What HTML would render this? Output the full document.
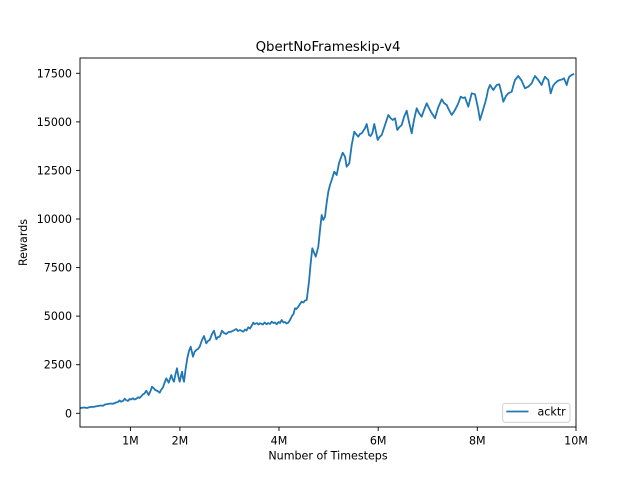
<!DOCTYPE html>
<html><head><meta charset="utf-8"><style>
html,body{margin:0;padding:0;background:#fff;}
svg{display:block;}
text{font-family:"DejaVu Sans","Liberation Sans",sans-serif;fill:#000;}
</style></head><body>
<svg width="640" height="480" viewBox="0 0 640 480" xmlns="http://www.w3.org/2000/svg">
<rect x="0" y="0" width="640" height="480" fill="#fff"/>
<defs><clipPath id="c"><rect x="80" y="58" width="496" height="369"/></clipPath></defs>
<polyline clip-path="url(#c)" fill="none" stroke="#1f77b4" stroke-width="1.8" stroke-linejoin="round" stroke-linecap="square" points="
80.5,408 84,407.5 87,408 90,407 94,406.8 98,406 101,405.5 103,405.8 105,404.5 108,404 111,403.5 113,403.8 116,402.5 118,402 119.5,400.5 121,401.7 123,401 124.7,398.7 126,400 128,401 129.5,399 131,399.5 133,398.3 134.5,399.5 136,399 138,397.3 139.5,398 141,396.5 143,394.3 144.5,393.5 146.3,390.7 148.7,395 150.5,391 152,386.7 153.5,388 155.3,390 157.5,391 159.7,392.7 161,390 163,387.3 164.5,383 166.3,378.3 168.7,382.7 171.3,375 172.5,379 174,381.7 175.5,374 177,368.3 178.3,376 179.7,381.7 182,371.7 183,378 184,381.7 185.5,370 187.3,358.3 189,351 190.7,346.7 193,356.7 194.5,352 196.3,350 198,349 199.7,346.7 202,340 204,336 206.3,343.3 208,341 209.7,340 212,334 214,330.7 216.3,339.3 218,337 219.7,336.7 222,330.7 224,333 226.3,334 228.5,332 231.3,331.7 233.5,330.5 236.3,329 238,331 240,330 243.3,331.7 245,329.5 246.5,330.5 248.3,327.3 250,328.5 251.5,326 253.3,322.7 255,324 257,323 258.5,324.5 260,323.3 263,324.5 264.5,322.5 266.7,324.3 268,323 270,324 271.7,321.7 273.5,323 275,322.5 276.7,324.3 278.5,322 280,323 281.7,320 283.5,322.5 285,322 286.5,323.5 288.3,322.7 290,320 292,316 293.5,314 295,308.3 296.5,309 298.3,306.7 300,304 301.7,301.7 303.5,302.5 305,300.5 306.7,300 309,281.7 310.5,265 312.3,248.3 314.3,253.3 315.7,256.7 318.3,246.7 320,230 321.7,215 323.3,220 325,216.7 326.5,204 328.3,191.7 330,185 331.7,180 334.3,171.7 336.7,175 339,163.3 340.8,158 342.7,152.7 345,156.7 346.7,166.7 349.3,163.3 351.7,145 354.3,131.7 356,134 358.3,136.7 360,134 361.7,133.3 365,128.3 366.7,124 369,135 370.5,136 372.3,133.3 374.3,124 376,132 377.7,140 379.5,137 381.7,135 385,125 388.3,115 390.5,118 392.7,120 395,118.3 397.3,130 399.5,127 401.7,125 404,117 406.7,110.7 409,122 411.7,133.3 414,120 416.7,108.3 419,113 421.7,116.7 424,110 426.7,103.3 429,108 431,112 433,115 435,118.3 438,108 441.7,99.3 444,103 446.7,105 449,110 451.7,115 455,110 458,104 460.7,96.7 463,98 465,97.3 468.3,106.7 471.7,93.3 475,94.3 478,108 480,120 483,110 485,103.3 486.7,96.7 488,90 490,85 493.3,90 496.7,85 499.3,84.3 501.5,93 503.3,101.7 506,96 508.3,93.3 511.7,91.7 513.5,85 515,80 518.3,76 521.7,80.7 523.5,85 525,88.3 528.3,86.7 531.7,83.3 533.5,79 535,76 538.3,80 541.7,85 543.5,80 545,76.7 548.3,80 550.7,93.3 553,86 555,83.3 557.5,81 560,80 562,79.5 564,78.3 566.7,85 568,80 569.3,76.7 571.7,75 573.3,74.3"/>
<rect x="80" y="58" width="496" height="369" fill="none" stroke="#000" stroke-width="0.9"/>
<g stroke="#000" stroke-width="0.9">
<line x1="130.4" y1="427" x2="130.4" y2="431"/>
<line x1="179.9" y1="427" x2="179.9" y2="431"/>
<line x1="279" y1="427" x2="279" y2="431"/>
<line x1="378.2" y1="427" x2="378.2" y2="431"/>
<line x1="477.3" y1="427" x2="477.3" y2="431"/>
<line x1="576" y1="427" x2="576" y2="431"/>
<line x1="76" y1="413.3" x2="80" y2="413.3"/>
<line x1="76" y1="364.7" x2="80" y2="364.7"/>
<line x1="76" y1="316.1" x2="80" y2="316.1"/>
<line x1="76" y1="267.6" x2="80" y2="267.6"/>
<line x1="76" y1="219" x2="80" y2="219"/>
<line x1="76" y1="170.4" x2="80" y2="170.4"/>
<line x1="76" y1="121.9" x2="80" y2="121.9"/>
<line x1="76" y1="73.3" x2="80" y2="73.3"/>
</g>
<g font-size="11.1" text-anchor="middle">
<text x="130.4" y="444.7">1M</text>
<text x="179.9" y="444.7">2M</text>
<text x="279" y="444.7">4M</text>
<text x="378.2" y="444.7">6M</text>
<text x="477.3" y="444.7">8M</text>
<text x="576" y="444.7">10M</text>
</g>
<g font-size="11.1" text-anchor="end">
<text x="72" y="417.3">0</text>
<text x="72" y="368.7">2500</text>
<text x="72" y="320.1">5000</text>
<text x="72" y="271.6">7500</text>
<text x="72" y="223">10000</text>
<text x="72" y="174.4">12500</text>
<text x="72" y="125.9">15000</text>
<text x="72" y="77.3">17500</text>
</g>
<text x="328" y="51" font-size="13.3" text-anchor="middle">QbertNoFrameskip-v4</text>
<text x="328" y="459.5" font-size="11.1" text-anchor="middle">Number of Timesteps</text>
<text transform="translate(27,242.5) rotate(-90)" font-size="11.1" text-anchor="middle">Rewards</text>
<rect x="502.7" y="403.3" width="67.3" height="19" rx="2.5" ry="2.5" fill="#fff" fill-opacity="0.8" stroke="#cccccc" stroke-width="0.9"/>
<line x1="506.3" y1="411.5" x2="528.5" y2="411.5" stroke="#1f77b4" stroke-width="1.8"/>
<text x="537.5" y="415.5" font-size="11.1">acktr</text>
</svg>
</body></html>
